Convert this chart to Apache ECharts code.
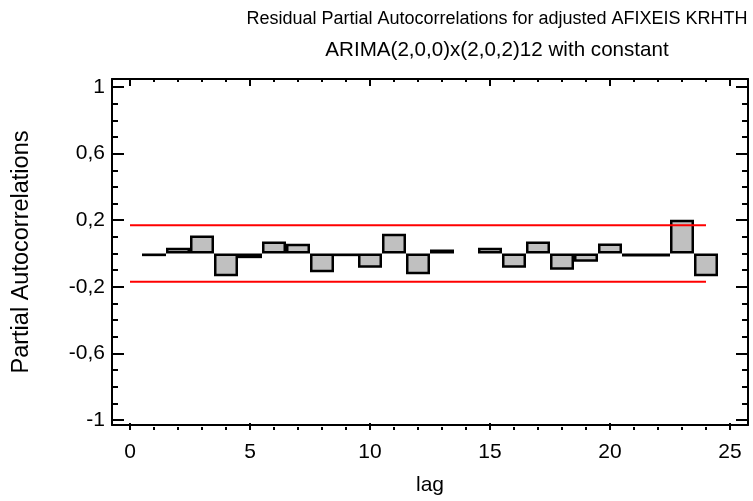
<!DOCTYPE html>
<html>
<head>
<meta charset="utf-8">
<script src="https://cdn.jsdelivr.net/npm/echarts@6/dist/echarts.min.js"></script>
<style>html,body{margin:0;padding:0;background:#fff}#c{width:753px;height:501px}</style>
</head>
<body>
<div id="c"></div>
<script>
var titleLines = ['Residual Partial Autocorrelations for adjusted AFIXEIS KRHTH', 'ARIMA(2,0,0)x(2,0,2)12 with constant'];
var xName = 'lag';
var yName = 'Partial Autocorrelations';
var lags = [1,2,3,4,5,6,7,8,9,10,11,12,13,14,15,16,17,18,19,20,21,22,23,24];
var pacf = [-0.016,0.034,0.108,-0.137,-0.028,0.072,0.058,-0.112,-0.016,-0.086,0.118,-0.125,0.024,null,0.034,-0.086,0.072,-0.098,-0.05,0.06,-0.018,-0.018,0.203,-0.137];
var limitUpper = 0.17;
var limitLower = -0.17;
var limitRange = [0, 24];
var xTicks = {min: 0, max: 25, interval: 5};
var yTicks = {min: -1, max: 1, interval: 0.4};

var FONT = 'Liberation Sans';
var barData = [];
lags.forEach(function(l, i){ if (pacf[i] !== null) barData.push([l, pacf[i]]); });

var chart = echarts.init(document.getElementById('c'));
var frameAxis = {axisLine:{show:true,onZero:false,lineStyle:{color:'#000',width:2}},axisTick:{show:false},axisLabel:{show:false},splitLine:{show:false}};
function fmt(v){ return String(Math.round(v*10)/10).replace('.', ','); }
chart.setOption({
  animation:false,
  backgroundColor:'#fff',
  title:[
    {text:titleLines[0], left:497, top:10, padding:0, textAlign:'center', textStyle:{fontFamily:FONT,fontSize:18,fontWeight:'normal',color:'#000'}},
    {text:titleLines[1], left:497, top:40, padding:0, textAlign:'center', textStyle:{fontFamily:FONT,fontSize:20.6,fontWeight:'normal',color:'#000'}}
  ],
  grid:[
    {left:112,right:5,top:79,bottom:71},
    {left:130,right:23,top:87,bottom:81}
  ],
  xAxis:[
    Object.assign({type:'value',gridIndex:0,position:'bottom',min:0,max:1,name:xName,nameLocation:'middle',nameGap:50,nameTextStyle:{fontFamily:FONT,fontSize:21,color:'#000'}}, frameAxis),
    Object.assign({type:'value',gridIndex:0,position:'top',min:0,max:1}, frameAxis),
    {type:'value',gridIndex:1,position:'bottom',offset:10,min:xTicks.min,max:xTicks.max,interval:xTicks.interval,
     axisLine:{show:false,onZero:false},axisTick:{show:true,inside:true,length:7,lineStyle:{color:'#000',width:2}},
     minorTick:{show:true,splitNumber:5,length:3,lineStyle:{color:'#000',width:2}},
     axisLabel:{show:true,margin:12,fontFamily:FONT,fontSize:21,color:'#000'},splitLine:{show:false},minorSplitLine:{show:false}},
    {type:'value',gridIndex:1,position:'top',offset:8,min:xTicks.min,max:xTicks.max,interval:xTicks.interval,
     axisLine:{show:false,onZero:false},axisTick:{show:true,inside:true,length:7,lineStyle:{color:'#000',width:2}},
     minorTick:{show:true,splitNumber:5,length:3,lineStyle:{color:'#000',width:2}},
     axisLabel:{show:false},splitLine:{show:false},minorSplitLine:{show:false}}
  ],
  yAxis:[
    Object.assign({type:'value',gridIndex:0,position:'left',min:0,max:1,name:yName,nameLocation:'middle',nameRotate:90,nameGap:78,nameTextStyle:{fontFamily:FONT,fontSize:23.5,color:'#000'}}, frameAxis),
    Object.assign({type:'value',gridIndex:0,position:'right',min:0,max:1}, frameAxis),
    {type:'value',gridIndex:1,position:'left',offset:18,min:yTicks.min,max:yTicks.max,interval:yTicks.interval,
     axisLine:{show:false,onZero:false},axisTick:{show:true,inside:true,length:12,lineStyle:{color:'#000',width:2}},
     minorTick:{show:true,splitNumber:4,length:6,lineStyle:{color:'#000',width:2}},
     axisLabel:{show:true,margin:7,fontFamily:FONT,fontSize:21,color:'#000',formatter:fmt},splitLine:{show:false},minorSplitLine:{show:false}},
    {type:'value',gridIndex:1,position:'right',offset:18,min:yTicks.min,max:yTicks.max,interval:yTicks.interval,
     axisLine:{show:false,onZero:false},axisTick:{show:true,inside:true,length:12,lineStyle:{color:'#000',width:2}},
     minorTick:{show:true,splitNumber:4,length:6,lineStyle:{color:'#000',width:2}},
     axisLabel:{show:false},splitLine:{show:false},minorSplitLine:{show:false}}
  ],
  series:[
    {type:'bar',xAxisIndex:2,yAxisIndex:2,data:barData,barWidth:24,itemStyle:{color:'#c0c0c0',borderColor:'#000',borderWidth:2.5},z:2},
    {type:'line',xAxisIndex:2,yAxisIndex:2,data:[[limitRange[0],limitUpper],[limitRange[1],limitUpper]],symbol:'none',lineStyle:{color:'#ff0000',width:2},z:3},
    {type:'line',xAxisIndex:2,yAxisIndex:2,data:[[limitRange[0],limitLower],[limitRange[1],limitLower]],symbol:'none',lineStyle:{color:'#ff0000',width:2},z:3}
  ]
});
</script>
</body>
</html>
